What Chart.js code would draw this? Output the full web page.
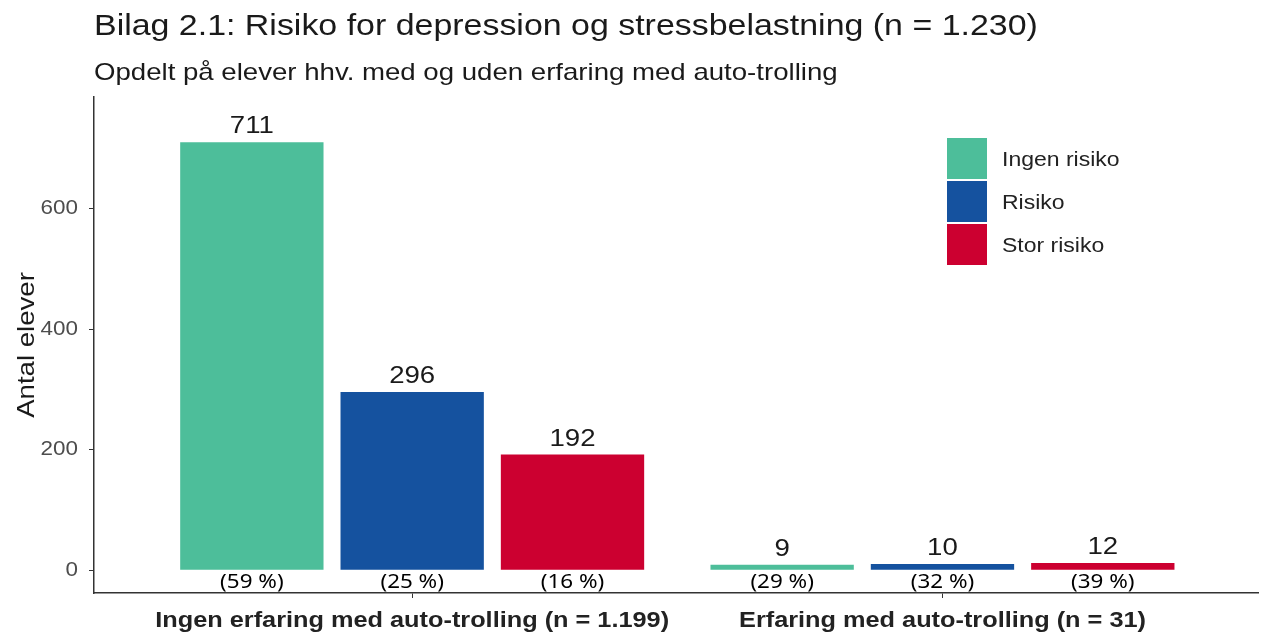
<!DOCTYPE html>
<html>
<head>
<meta charset="utf-8">
<script src="https://cdn.jsdelivr.net/npm/chart.js@4/dist/chart.umd.min.js"></script>
<style>
  html, body { margin: 0; padding: 0; background: #fff; }
  canvas { display: block; }
</style>
</head>
<body>
<canvas id="chart" width="1261" height="636"></canvas>
<script>
// data
const groups = ['Ingen erfaring med auto-trolling (n = 1.199)', 'Erfaring med auto-trolling (n = 31)'];
const seriesNames = ['Ingen risiko', 'Risiko', 'Stor risiko'];
const seriesColors = ['#4DBE9A', '#15529F', '#CC0030'];
const ingenRisiko = [711, 9];
const risiko = [296, 10];
const storRisiko = [192, 12];
const ingenRisikoPct = [59, 29];
const risikoPct = [25, 32];
const storRisikoPct = [16, 39];
const yTicks = [0, 200, 400, 600];

const titleText = 'Bilag 2.1: Risiko for depression og stressbelastning (n = 1.230)';
const subtitleText = 'Opdelt på elever hhv. med og uden erfaring med auto-trolling';
const yTitle = 'Antal elever';

const values = [ingenRisiko, risiko, storRisiko];
const pcts = [ingenRisikoPct, risikoPct, storRisikoPct];

// the reference text is a bit wider than plain Arial
const SX = 1.15;
const SANS = '"Liberation Sans", Arial, sans-serif';

function txt(ctx, s, x, y, font, color, align, base, sx) {
    sx = sx || SX;
    ctx.save();
    ctx.font = font;
    ctx.fillStyle = color;
    ctx.textBaseline = base || 'alphabetic';
    const w = ctx.measureText(s).width * sx;
    let left = x;
    if (align === 'center') left = x - w / 2;
    if (align === 'right') left = x - w;
    ctx.translate(left, y);
    ctx.scale(sx, 1);
    ctx.textAlign = 'left';
    ctx.fillText(s, 0, 0);
    ctx.restore();
}

const textPlugin = {
    id: 'texts',
    afterDatasetsDraw(chart) {
        const ctx = chart.ctx;
        const area = chart.chartArea;
        const xs = chart.scales.x, ys = chart.scales.y;

        // titles
        txt(ctx, titleText, area.left, 35, '29.5px ' + SANS, '#1a1a1a', 'left');
        txt(ctx, subtitleText, area.left, 80, '24px ' + SANS, '#1a1a1a', 'left');

        // y title
        ctx.save();
        ctx.translate(34, (area.top + area.bottom) / 2);
        ctx.rotate(-Math.PI / 2);
        txt(ctx, yTitle, 0, 0, '24px ' + SANS, '#1a1a1a', 'center');
        ctx.restore();

        // y tick labels
        yTicks.forEach(v => {
            txt(ctx, String(v), area.left - 16, ys.getPixelForValue(v), '19.5px ' + SANS, '#4d4d4d', 'right', 'middle');
        });

        // x labels
        groups.forEach((g, i) => {
            txt(ctx, g, xs.getPixelForValue(i + 1), 621, 'bold 22px ' + SANS, '#222', 'center', 'middle');
        });

        // bar value and percent labels
        const zero = ys.getPixelForValue(0);
        chart.data.datasets.forEach((ds, d) => {
            chart.getDatasetMeta(d).data.forEach((bar, i) => {
                txt(ctx, String(values[d][i]), bar.x, bar.y - 9, '24px ' + SANS, '#1a1a1a', 'center');
                txt(ctx, '(' + pcts[d][i] + ' %)', bar.x, zero + 12, '20px "Noto Sans", sans-serif', '#000', 'center', 'middle', 1.12);
            });
        });

        // legend
        const lx = 947, ly = 138, box = 41, gap = 2;
        seriesNames.forEach((n, k) => {
            const top = ly + k * (box + gap);
            ctx.fillStyle = seriesColors[k];
            ctx.fillRect(lx, top, 40, box);
            txt(ctx, n, lx + 55, top + box / 2 + 2, '20px ' + SANS, '#222', 'left', 'middle');
        });
    }
};

const ctx = document.getElementById('chart').getContext('2d');
new Chart(ctx, {
    type: 'bar',
    data: {
        datasets: seriesNames.map((name, d) => ({
            label: name,
            data: values[d].map((v, i) => ({ x: i + 1, y: v })),
            backgroundColor: seriesColors[d],
            borderWidth: 0,
            categoryPercentage: 0.907,
            barPercentage: 0.894
        }))
    },
    options: {
        responsive: false,
        animation: false,
        devicePixelRatio: 1,
        layout: { padding: { top: 97, right: 3, left: 0, bottom: 0 } },
        plugins: {
            legend: { display: false },
            tooltip: { enabled: false }
        },
        scales: {
            x: {
                type: 'linear',
                min: 0.4,
                max: 2.595,
                offset: false,
                afterBuildTicks: s => { s.ticks = groups.map((g, i) => ({ value: i + 1 })); },
                afterFit: s => { s.height = 43; },
                ticks: { display: false },
                grid: { offset: false, drawOnChartArea: false, drawTicks: true, tickLength: 5, color: '#333', lineWidth: 1 },
                border: { display: true, color: '#333', width: 1.5 }
            },
            y: {
                min: -38,
                max: 786,
                afterBuildTicks: s => { s.ticks = yTicks.map(v => ({ value: v })); },
                afterFit: s => { s.width = 94; },
                ticks: { display: false },
                grid: { drawOnChartArea: false, drawTicks: true, tickLength: 5, color: '#333', lineWidth: 1 },
                border: { display: true, color: '#333', width: 1.5 }
            }
        }
    },
    plugins: [textPlugin]
});
</script>
</body>
</html>
